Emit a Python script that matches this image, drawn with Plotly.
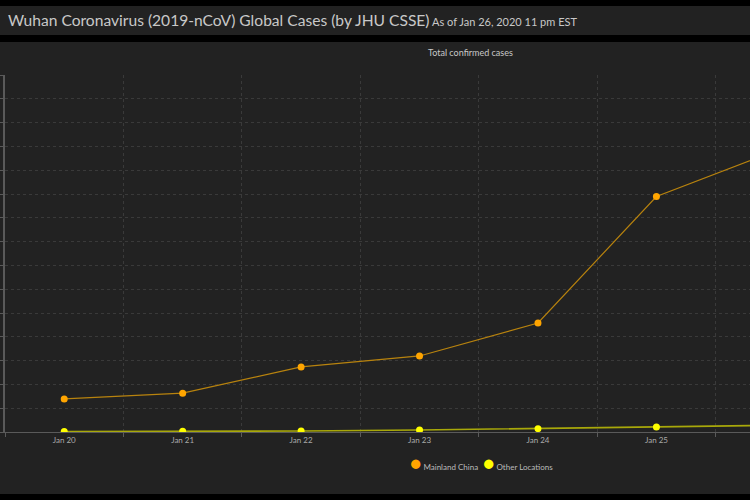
import plotly.graph_objects as go

dates = ["Jan 20", "Jan 21", "Jan 22", "Jan 23", "Jan 24", "Jan 25", "Jan 26"]
mainland_china = [278, 326, 547, 639, 916, 1979, 2360]
other_locations = [4, 6, 8, 17, 28, 41, 56]
series_names = ["Mainland China", "Other Locations"]
series_colors = ["#FFA500", "#FFFF00"]
line_colors = ["#b8830e", "#a8a80a"]

FONT = "Lato"
W, H = 750, 500
L, R, T, B = 5, 0, 75, 68
ph = H - T - B

def py(pix):
    return (H - B - pix) / ph

def px(pix):
    return (pix - L) / (W - L - R)

fig = go.Figure()

for name, vals, mc, lc, lw in zip(series_names, [mainland_china, other_locations],
                                  series_colors, line_colors, [1.2, 1.6]):
    fig.add_trace(go.Scatter(
        x=dates, y=vals, mode="lines+markers", name=name,
        line=dict(color=lc, width=lw),
        marker=dict(color=mc, size=7), showlegend=False,
    ))

shapes = [
    dict(type="rect", xref="paper", yref="paper", x0=px(0), x1=px(W), y0=py(35), y1=py(6),
         fillcolor="#222222", line=dict(width=0), layer="below"),
    dict(type="rect", xref="paper", yref="paper", x0=px(0), x1=px(W), y0=py(494), y1=py(42),
         fillcolor="#222222", line=dict(width=0), layer="below"),
]

annotations = [dict(
    text="Total confirmed cases", xref="paper", yref="paper",
    x=px(470), y=py(52.5), xanchor="center", yanchor="middle", showarrow=False,
    font=dict(family=FONT, size=9, color="#c8c8c8"),
)]
# legend
for name, col, lx in zip(series_names, series_colors, [408, 481]):
    annotations.append(dict(
        text=f"<span style='color:{col};font-size:19px'>●</span> {name}",
        xref="paper", yref="paper", x=px(lx), y=py(463),
        xanchor="left", yanchor="middle", showarrow=False,
        font=dict(family=FONT, size=8, color="#bbbbbb"),
    ))

fig.update_layout(
    width=W, height=H,
    margin=dict(l=L, r=R, t=T, b=B, pad=0),
    paper_bgcolor="#000000",
    plot_bgcolor="#222222",
    shapes=shapes,
    annotations=annotations,
    showlegend=False,
    font=dict(family=FONT, color="#bbbbbb"),
    title=dict(
        text="Wuhan Coronavirus (2019-nCoV) Global Cases (by JHU CSSE)"
             "<span style='font-size:11px'> As of Jan 26, 2020 11 pm EST</span>",
        xref="container", yref="container", x=8 / W, y=1 - 21 / H,
        xanchor="left", yanchor="middle",
        font=dict(family=FONT, size=15.6, color="#c8c8c8"),
    ),
    xaxis=dict(
        type="category", range=[-0.5, 5.79], tickson="boundaries",
        showgrid=True, gridcolor="#3a3a3a", griddash="dot", gridwidth=1,
        showline=True, linecolor="#5a5a5a", linewidth=1,
        ticks="outside", ticklen=4, tickcolor="#5a5a5a",
        tickfont=dict(size=8, color="#aaaaaa"),
        zeroline=False, fixedrange=True,
    ),
    yaxis=dict(
        range=[0, 3000], dtick=200, showticklabels=False,
        showgrid=True, gridcolor="#3a3a3a", griddash="dot", gridwidth=1,
        showline=True, linecolor="#5a5a5a", linewidth=1.5,
        ticks="outside", ticklen=3, tickcolor="#5a5a5a",
        zeroline=False, fixedrange=True,
    ),
)

fig.write_html("out.html")
